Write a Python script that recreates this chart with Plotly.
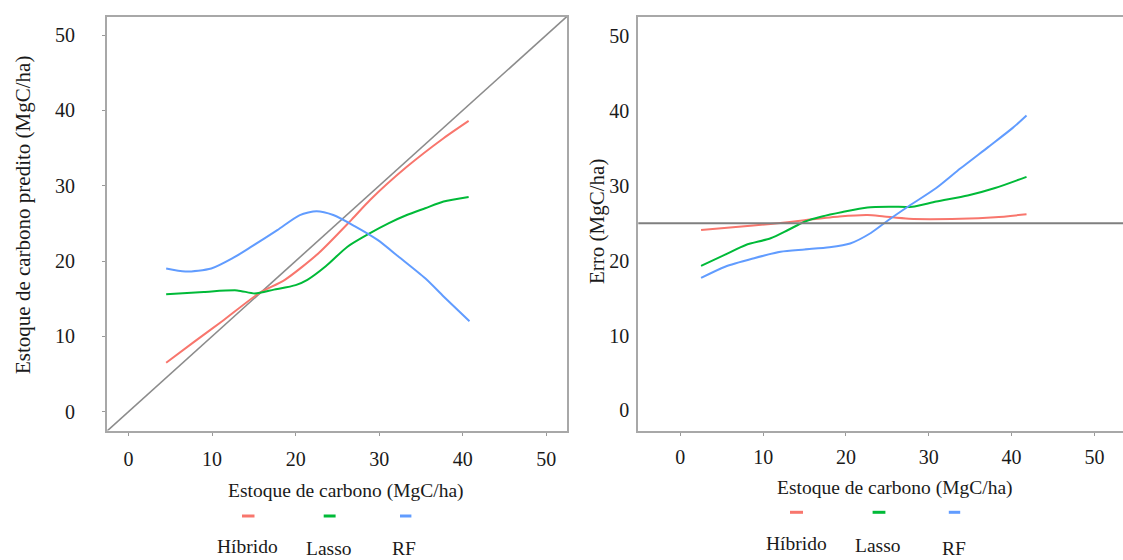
import plotly.graph_objects as go

# ---------------- data ----------------
# Left panel: predicted vs observed carbon stock
left_hib_x = [4.5, 8.0, 11.2, 15.6, 18.7, 22.7, 26.7, 28.9, 33.3, 37.7, 40.7]
left_hib_y = [6.5, 9.4, 12.0, 15.7, 17.5, 21.0, 25.5, 28.1, 32.5, 36.3, 38.6]

left_las_x = [4.5, 9.0, 13.0, 15.1, 17.4, 20.0, 21.4, 23.6, 26.2, 28.9, 31.1, 33.3, 35.5, 37.7, 40.7]
left_las_y = [15.6, 15.9, 16.1, 15.7, 16.2, 16.8, 17.5, 19.3, 21.9, 23.7, 25.0, 26.1, 27.0, 27.9, 28.5]

left_rf_x = [4.5, 6.8, 9.9, 12.5, 14.7, 17.8, 20.5, 22.5, 24.5, 27.1, 29.8, 32.4, 35.5, 37.7, 40.8]
left_rf_y = [19.0, 18.6, 19.0, 20.4, 21.9, 24.1, 26.1, 26.6, 26.1, 24.6, 22.8, 20.5, 17.7, 15.3, 12.0]

# Right panel: error vs observed carbon stock
right_hib_x = [2.5, 6.7, 10.9, 15.0, 19.2, 22.6, 24.6, 27.6, 33.8, 38.0, 41.8]
right_hib_y = [24.1, 24.5, 24.9, 25.4, 25.9, 26.1, 25.9, 25.6, 25.6, 25.8, 26.2]

right_las_x = [2.5, 5.4, 7.9, 10.9, 13.0, 15.0, 17.1, 19.6, 22.6, 25.5, 28.0, 30.9, 34.7, 38.0, 41.8]
right_las_y = [19.3, 20.8, 22.1, 23.0, 24.1, 25.2, 25.9, 26.5, 27.1, 27.2, 27.2, 27.9, 28.7, 29.7, 31.2]

right_rf_x = [2.5, 5.4, 8.8, 12.1, 15.0, 18.0, 20.5, 23.0, 25.1, 27.6, 30.9, 33.8, 37.2, 40.1, 41.8]
right_rf_y = [17.7, 19.2, 20.3, 21.2, 21.5, 21.8, 22.3, 23.7, 25.4, 27.3, 29.7, 32.3, 35.2, 37.7, 39.4]

error_ref = 25.0
tick_vals = [0, 10, 20, 30, 40, 50]
series_names = ["Híbrido", "Lasso", "RF"]
series_colors = ["#F8766D", "#00BA38", "#619CFF"]

left_xrange = [-2.58, 52.47]
left_yrange = [-2.50, 52.43]
right_xrange = [-5.08, 53.45]
right_yrange = [-2.70, 52.58]

W, H = 1123, 560
FONT = "Liberation Serif"
TXT = "#1a1a1a"
FRAME = "#a8a8a8"

fig = go.Figure()

# identity line (y = x) on the left panel
fig.add_trace(go.Scatter(x=left_xrange, y=left_xrange, mode="lines",
                         line=dict(color="#8c8c8c", width=1.6),
                         xaxis="x", yaxis="y", showlegend=False, hoverinfo="skip"))

left_sets = [(left_hib_x, left_hib_y), (left_las_x, left_las_y), (left_rf_x, left_rf_y)]
right_sets = [(right_hib_x, right_hib_y), (right_las_x, right_las_y), (right_rf_x, right_rf_y)]

for (xs, ys), name, col in zip(left_sets, series_names, series_colors):
    fig.add_trace(go.Scatter(x=xs, y=ys, mode="lines", name=name,
                             line=dict(color=col, width=2, shape="spline", smoothing=0.7),
                             xaxis="x", yaxis="y", showlegend=False))
for (xs, ys), name, col in zip(right_sets, series_names, series_colors):
    fig.add_trace(go.Scatter(x=xs, y=ys, mode="lines", name=name,
                             line=dict(color=col, width=2, shape="spline", smoothing=0.7),
                             xaxis="x2", yaxis="y2", showlegend=False))

def px_x(p):
    return p / W

def px_y(p):
    return 1 - p / H

tick_font = dict(family=FONT, size=20, color=TXT)

fig.update_layout(
    width=W, height=H,
    margin=dict(l=0, r=0, t=0, b=0),
    paper_bgcolor="white", plot_bgcolor="white",
    font=dict(family=FONT, color=TXT),
    showlegend=False,
    xaxis=dict(domain=[px_x(107), px_x(567)], range=left_xrange,
               tickvals=tick_vals, ticks="outside", ticklen=3, tickcolor="#999999",
               showline=True, mirror=True, linecolor=FRAME, linewidth=2,
               showgrid=False, zeroline=False, tickfont=tick_font,
               ticklabelstandoff=6, anchor="y"),
    yaxis=dict(domain=[px_y(430.5), px_y(16.7)], range=left_yrange,
               tickvals=tick_vals, ticks="outside", ticklen=3, tickcolor="#999999",
               showline=True, mirror=True, linecolor=FRAME, linewidth=2,
               showgrid=False, zeroline=False, tickfont=tick_font,
               ticklabelstandoff=23, anchor="x"),
    xaxis2=dict(domain=[px_x(638.3), 1.0], range=right_xrange,
                tickvals=tick_vals, ticks="outside", ticklen=3, tickcolor="#999999",
                showline=True, mirror=True, linecolor=FRAME, linewidth=2,
                showgrid=False, zeroline=False, tickfont=tick_font,
                ticklabelstandoff=4, anchor="y2"),
    yaxis2=dict(domain=[px_y(430.7), px_y(16.7)], range=right_yrange,
                tickvals=tick_vals, ticks="",
                showline=True, mirror=False, linecolor=FRAME, linewidth=2,
                showgrid=False, zeroline=False, tickfont=tick_font,
                ticklabelstandoff=3, anchor="x2"),
)

# reference error line on the right panel
fig.add_shape(type="line", xref="x2 domain", yref="y2", x0=0, x1=1,
              y0=error_ref, y1=error_ref, line=dict(color="#7f7f7f", width=2))

annotations = []
# axis titles
annotations.append(dict(text="Estoque de carbono (MgC/ha)", x=px_x(346), y=px_y(491),
                        xref="paper", yref="paper", showarrow=False,
                        xanchor="center", yanchor="middle",
                        font=dict(family=FONT, size=19.5, color=TXT)))
annotations.append(dict(text="Estoque de carbono (MgC/ha)", x=px_x(894.6), y=px_y(488),
                        xref="paper", yref="paper", showarrow=False,
                        xanchor="center", yanchor="middle",
                        font=dict(family=FONT, size=19.5, color=TXT)))
annotations.append(dict(text="Estoque de carbono predito (MgC/ha)", x=px_x(23), y=px_y(215),
                        xref="paper", yref="paper", showarrow=False, textangle=-90,
                        xanchor="center", yanchor="middle",
                        font=dict(family=FONT, size=21, color=TXT)))
annotations.append(dict(text="Erro (MgC/ha)", x=px_x(597), y=px_y(222),
                        xref="paper", yref="paper", showarrow=False, textangle=-90,
                        xanchor="center", yanchor="middle",
                        font=dict(family=FONT, size=21, color=TXT)))

# legends (symbol above label), one for each panel
legend_left = dict(line_x=[(242, 254.5), (323.7, 335.6), (400, 411.4)], line_y=516,
                   text_x=[247.9, 329, 404], text_y=[546.7, 548.0, 548.5])
legend_right = dict(line_x=[(790, 803), (872.6, 885.4), (948.8, 960.2)], line_y=512.3,
                    text_x=[796.8, 878, 954], text_y=[543.3, 545.7, 548.0])

for lg in (legend_left, legend_right):
    for (x0, x1), tx, ty, name, col in zip(lg["line_x"], lg["text_x"], lg["text_y"],
                                           series_names, series_colors):
        fig.add_shape(type="line", xref="paper", yref="paper",
                      x0=px_x(x0), x1=px_x(x1), y0=px_y(lg["line_y"]), y1=px_y(lg["line_y"]),
                      line=dict(color=col, width=3))
        annotations.append(dict(text=name, x=px_x(tx), y=px_y(ty),
                                xref="paper", yref="paper", showarrow=False,
                                xanchor="center", yanchor="middle",
                                font=dict(family=FONT, size=19.5, color=TXT)))

fig.update_layout(annotations=annotations)

fig.write_html("out.html")
